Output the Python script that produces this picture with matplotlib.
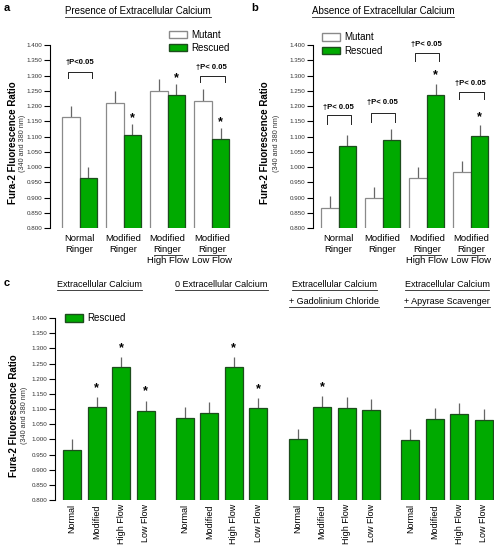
import numpy as np
import matplotlib.pyplot as plt
from matplotlib.lines import Line2D
from matplotlib.patches import Patch

plt.rcParams['font.family'] = ['Liberation Sans', 'DejaVu Sans']

GREEN = '#00aa00'
GREEN_EDGE = '#1d4d1d'
MUT_EDGE = '#8a8a8a'
ERR = '#666666'

# ---------------- data ----------------
# panel a : presence of extracellular calcium
mutant_a = [1.165, 1.210, 1.250, 1.217]
mutant_a_err = [0.035, 0.038, 0.040, 0.038]
rescued_a = [0.965, 1.105, 1.237, 1.092]
rescued_a_err = [0.035, 0.035, 0.035, 0.036]
star_a = [False, True, True, True]

# panel b : absence of extracellular calcium
mutant_b = [0.867, 0.900, 0.965, 0.985]
mutant_b_err = [0.038, 0.035, 0.035, 0.035]
rescued_b = [1.070, 1.088, 1.237, 1.102]
rescued_b_err = [0.035, 0.035, 0.035, 0.035]
star_b = [False, False, True, True]

# panel c : rescued only, 4 conditions
c_titles = [['Extracellular Calcium'],
            ['0 Extracellular Calcium'],
            ['Extracellular Calcium', '+ Gadolinium Chloride'],
            ['Extracellular Calcium', '+ Apyrase Scavenger']]
c_labels = ['Normal', 'Modified', 'High Flow', 'Low Flow']
rescued_ca = [0.965, 1.105, 1.237, 1.092]
rescued_ca_err = [0.035, 0.035, 0.035, 0.036]
rescued_c0 = [1.070, 1.088, 1.237, 1.102]
rescued_c0_err = [0.035, 0.035, 0.035, 0.035]
rescued_cg = [1.001, 1.107, 1.103, 1.097]
rescued_cg_err = [0.033, 0.036, 0.037, 0.036]
rescued_cp = [0.998, 1.067, 1.083, 1.064]
rescued_cp_err = [0.036, 0.036, 0.037, 0.036]
star_c = [[False, True, True, True],
          [False, False, True, True],
          [False, True, False, False],
          [False, False, False, False]]

yticks = np.arange(0.8, 1.401, 0.05)

fig = plt.figure(figsize=(4.94, 5.46), dpi=100)
W, H = 494.0, 546.0
underlined = []


def style_axis(ax):
    ax.set_ylim(0.8, 1.405)
    ax.set_yticks(yticks)
    ax.set_yticklabels(['%.3f' % v for v in yticks], fontsize=4.5, color='#333333')
    ax.tick_params(axis='y', length=4, width=0.8, pad=1.5)
    ax.tick_params(axis='x', length=0)
    for s in ['top', 'right', 'bottom']:
        ax.spines[s].set_visible(False)
    ax.spines['left'].set_bounds(0.8, 1.4)
    ax.spines['left'].set_linewidth(0.8)


def ylab(ax, xb, xs):
    bb = ax.get_position()
    yc = bb.y0 + bb.height * 0.46
    fig.text(xb / W, yc, 'Fura-2 Fluorescence Ratio', rotation=90, ha='center',
             va='center', fontsize=7, fontweight='bold')
    fig.text(xs / W, yc, '(340 and 380 nm)', rotation=90, ha='center',
             va='center', fontsize=5.2, color='#333333')


def bars(ax, x, vals, errs, w, face, edge):
    ax.bar(x, vals, width=w, bottom=0, color=face, edgecolor=edge, linewidth=0.9, zorder=2)
    ax.vlines(x, vals, np.array(vals) + np.array(errs), color=ERR, lw=0.9, zorder=1)


def xlabels_ab(ax, x):
    tr = ax.get_xaxis_transform()
    lines = [[('Normal', False), ('Ringer', False)],
             [('Modified', False), ('Ringer', False)],
             [('Modified', False), ('Ringer', True), ('High Flow', False)],
             [('Modified', False), ('Ringer', True), ('Low Flow', False)]]
    for xi, lab in zip(x, lines):
        for k, (s, u) in enumerate(lab):
            t = ax.text(xi, -0.035 - k * 0.058, s, transform=tr, ha='center', va='top',
                        fontsize=6.8)
            if u:
                underlined.append(t)


def bracket(ax, xc, y, h, label, ty):
    ax.plot([xc - 0.27, xc - 0.27, xc + 0.29, xc + 0.29], [y - h, y, y, y - h],
            color='#222222', lw=0.7)
    ax.text(xc, ty, label, ha='center', va='center', fontsize=5.5, fontweight='bold')


def leg(ax, handles, anchor):
    ax.legend(handles=handles, loc='upper left', bbox_to_anchor=anchor, frameon=False,
              fontsize=7, handlelength=1.8, handleheight=0.8, handletextpad=0.5,
              labelspacing=0.35, borderaxespad=0, borderpad=0)


# ---------------- panel a ----------------
axa = fig.add_axes([50 / W, 1 - 228 / H, 186 / W, 184.5 / H])
xa = np.arange(4)
bars(axa, xa - 0.2, mutant_a, mutant_a_err, 0.4, 'white', MUT_EDGE)
bars(axa, xa + 0.2, rescued_a, rescued_a_err, 0.4, GREEN, GREEN_EDGE)
style_axis(axa)
axa.set_xlim(-0.67, 3.55)
axa.set_xticks([])
for i in range(4):
    if star_a[i]:
        axa.text(i + 0.2, rescued_a[i] + rescued_a_err[i] + 0.02, '*', ha='center',
                 va='center', fontsize=9, fontweight='bold')
bracket(axa, 0, 1.311, 0.02, u'\u2020P<0.05', 1.344)
bracket(axa, 3, 1.298, 0.02, u'\u2020P< 0.05', 1.326)
xlabels_ab(axa, xa)
leg(axa, [Patch(facecolor='white', edgecolor=MUT_EDGE, label='Mutant'),
          Patch(facecolor=GREEN, edgecolor=GREEN_EDGE, label='Rescued')], (0.64, 1.075))
ylab(axa, 13, 23)
t = fig.text(138 / W, 1 - 11 / H, 'Presence of Extracellular Calcium', ha='center',
             va='center', fontsize=7)
underlined.append(t)
fig.text(4 / W, 1 - 8 / H, 'a', fontsize=8, fontweight='bold', va='center')

# ---------------- panel b ----------------
axb = fig.add_axes([313 / W, 1 - 228 / H, 182 / W, 184.5 / H])
bars(axb, xa - 0.2, mutant_b, mutant_b_err, 0.4, 'white', MUT_EDGE)
bars(axb, xa + 0.2, rescued_b, rescued_b_err, 0.4, GREEN, GREEN_EDGE)
style_axis(axb)
axb.set_xlim(-0.58, 3.55)
axb.set_xticks([])
for i in range(4):
    if star_b[i]:
        axb.text(i + 0.2, rescued_b[i] + rescued_b_err[i] + 0.028, '*', ha='center',
                 va='center', fontsize=9, fontweight='bold')
bpos = [(1.170, 0.03, 1.195), (1.177, 0.03, 1.21), (1.374, 0.025, 1.403), (1.246, 0.022, 1.275)]
for i, (yb, hb, ty) in enumerate(bpos):
    bracket(axb, i, yb, hb, u'\u2020P< 0.05', ty)
xlabels_ab(axb, xa)
leg(axb, [Patch(facecolor='white', edgecolor=MUT_EDGE, label='Mutant'),
          Patch(facecolor=GREEN, edgecolor=GREEN_EDGE, label='Rescued')], (0.05, 1.06))
ylab(axb, 265, 276)
t = fig.text(383 / W, 1 - 11 / H, 'Absence of Extracellular Calcium', ha='center',
             va='center', fontsize=7)
underlined.append(t)
fig.text(251 / W, 1 - 8 / H, 'b', fontsize=8, fontweight='bold', va='center')

# ---------------- panel c ----------------
axc = fig.add_axes([55 / W, 46 / H, 438.6 / W, 183.5 / H])
vals_c = [rescued_ca, rescued_c0, rescued_cg, rescued_cp]
errs_c = [rescued_ca_err, rescued_c0_err, rescued_cg_err, rescued_cp_err]
ticks, labs = [], []
for g in range(4):
    x = g * 4.6 + np.arange(4)
    bars(axc, x, vals_c[g], errs_c[g], 0.73, GREEN, GREEN_EDGE)
    for i in range(4):
        if star_c[g][i]:
            axc.text(x[i], vals_c[g][i] + errs_c[g][i] + 0.03, '*', ha='center',
                     va='center', fontsize=9, fontweight='bold')
    ticks += list(x)
    labs += c_labels
    xc = x.mean() - (9 if g == 0 else 0) / 24.5
    for k, s in enumerate(c_titles[g]):
        t = axc.text(xc, 1.509 - k * 0.056, s, ha='center', va='center', fontsize=6.5)
        underlined.append(t)
style_axis(axc)
axc.set_xlim(-0.70, 17.2)
axc.set_xticks(ticks)
axc.set_xticklabels(labs, rotation=90, fontsize=6.5)
axc.tick_params(axis='x', pad=3)
leg(axc, [Patch(facecolor=GREEN, edgecolor=GREEN_EDGE, label='Rescued')], (0.023, 1.017))
ylab(axc, 14, 25)
fig.text(4 / W, 1 - 283 / H, 'c', fontsize=8, fontweight='bold', va='center')

# underline titles / labels
fig.canvas.draw()
r = fig.canvas.get_renderer()
for t in underlined:
    bb = t.get_window_extent(r)
    y = bb.y0 - 0.5
    fig.add_artist(Line2D([bb.x0 / W, bb.x1 / W], [y / H, y / H], lw=0.6, color='#222222',
                          transform=fig.transFigure))

fig.savefig('out.png', dpi=100)
